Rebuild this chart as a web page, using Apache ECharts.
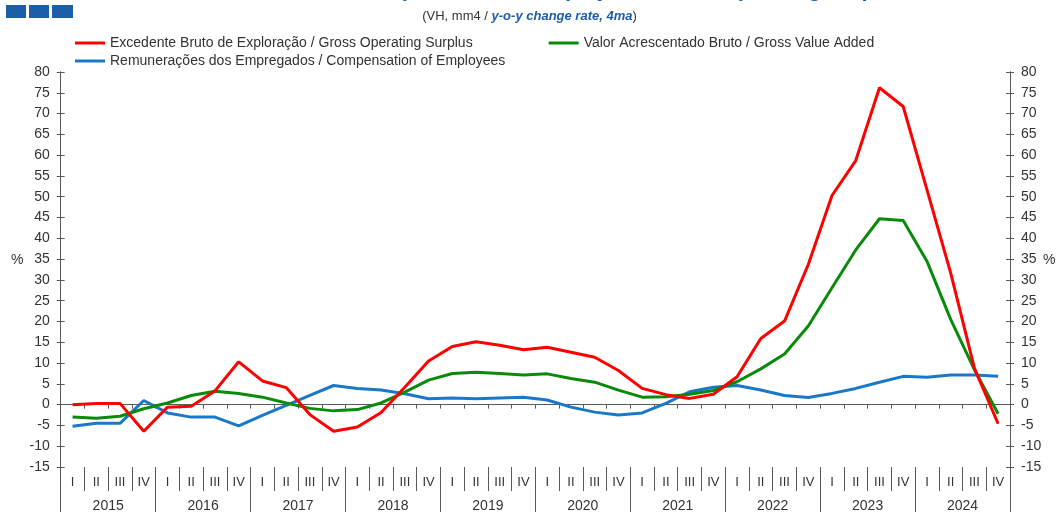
<!DOCTYPE html>
<html>
<head>
<meta charset="utf-8">
<script src="https://cdn.jsdelivr.net/npm/echarts@6/dist/echarts.min.js"></script>
<style>
html,body{margin:0;padding:0;background:#fff;}
#chart{width:1059px;height:513px;}
</style>
</head>
<body>
<div id="chart"></div>
<script>
const years = ['2015','2016','2017','2018','2019','2020','2021','2022','2023','2024'];
const quarterNames = ['I','II','III','IV'];
const yTicks = {min: -15, max: 80, interval: 5};

const seriesNames = [
  'Excedente Bruto de Exploração / Gross Operating Surplus',
  'Valor Acrescentado Bruto / Gross Value Added',
  'Remunerações dos Empregados / Compensation of Employees'
];

const gos = [
  0.0, 0.3, 0.3, -6.4,
  -0.6, -0.4, 3.3, 10.3,
  5.7, 4.1, -2.4, -6.4,
  -5.4, -1.9, 4.2, 10.5,
  14.0, 15.1, 14.3, 13.2,
  13.8, 12.6, 11.4, 8.2,
  3.9, 2.4, 1.5, 2.5,
  6.7, 15.9, 20.1, 33.7,
  50.3, 58.7, 76.2, 71.7,
  51.7, 31.7, 8.8, -4.6
];
const gva = [
  -3.0, -3.3, -2.8, -1.0,
  0.4, 2.2, 3.2, 2.7,
  1.8, 0.4, -0.9, -1.5,
  -1.2, 0.4, 3.0, 5.9,
  7.5, 7.8, 7.5, 7.1,
  7.4, 6.3, 5.4, 3.5,
  1.8, 1.9, 2.5, 3.4,
  5.5, 8.6, 12.2, 18.9,
  28.1, 37.2, 44.7, 44.3,
  34.5, 20.5, 8.4, -2.2
];
const coe = [
  -5.2, -4.5, -4.5, 1.0,
  -2.0, -3.0, -3.0, -5.1,
  -2.6, -0.2, 2.2, 4.6,
  3.9, 3.5, 2.6, 1.4,
  1.6, 1.4, 1.6, 1.8,
  1.1, -0.6, -1.8, -2.5,
  -2.0, 0.3, 3.1, 4.2,
  4.6, 3.5, 2.2, 1.7,
  2.7, 3.9, 5.4, 6.8,
  6.6, 7.1, 7.1, 6.8
];

const quarters = [];
years.forEach(y => quarterNames.forEach(q => quarters.push(q)));
const quarterKeys = [];
years.forEach(y => quarterNames.forEach(q => quarterKeys.push(y + ' ' + q)));

const FONT = 'Liberation Sans, Arial, sans-serif';
const AX = '#595959';
const TXT = '#333333';

const chart = echarts.init(document.getElementById('chart'));

function yAx(pos, labels, inside) {
  return {
    type: 'value', position: pos, min: yTicks.min, max: yTicks.max, interval: yTicks.interval,
    axisLine: {show: true, lineStyle: {color: AX, width: 1}},
    axisTick: {show: true, inside: inside, length: 4, lineStyle: {color: AX}},
    axisLabel: {show: labels, color: TXT, fontFamily: FONT, fontSize: 14, margin: 11},
    splitLine: {show: false}
  };
}

chart.setOption({
  animation: false,
  backgroundColor: '#ffffff',
  grid: {left: 60.7, right: 49, top: 72, bottom: 44.7, containLabel: false},
  graphic: [
    {type: 'rect', shape: {x: 6, y: 5, width: 20, height: 13}, style: {fill: '#1a5ea8'}},
    {type: 'rect', shape: {x: 29, y: 5, width: 20, height: 13}, style: {fill: '#1a5ea8'}},
    {type: 'rect', shape: {x: 52, y: 5, width: 21, height: 13}, style: {fill: '#1a5ea8'}},
    {type: 'text', left: 'center', top: -19,
      style: {text: 'Gross Value Added, Compensation of Employees, Gross Operating Surplus',
        fontFamily: FONT, fontSize: 21, fontWeight: 'bold', fontStyle: 'italic', fill: '#1a5ea8'}},
    {type: 'text', left: 'center', top: 10,
      style: {rich: {
        a: {fontFamily: FONT, fontSize: 13, fill: TXT, color: TXT},
        b: {fontFamily: FONT, fontSize: 13, fontWeight: 'bold', fontStyle: 'italic', fill: '#1a5ea8', color: '#1a5ea8'}
      }, text: '{a|(VH, mm4 / }{b|y-o-y change rate, 4ma}{a|)}'}},
    {type: 'text', x: 11, y: 253, style: {text: '%', fontFamily: FONT, fontSize: 14, fill: TXT}},
    {type: 'text', x: 1043, y: 253, style: {text: '%', fontFamily: FONT, fontSize: 14, fill: TXT}}
  ],
  legend: [
    {left: 70, top: 31, itemWidth: 30, itemHeight: 3, itemGap: 76, icon: 'rect',
      data: [seriesNames[0], seriesNames[1]],
      textStyle: {color: TXT, fontFamily: FONT, fontSize: 14}},
    {left: 70, top: 49, itemWidth: 30, itemHeight: 3, icon: 'rect',
      data: [seriesNames[2]],
      textStyle: {color: TXT, fontFamily: FONT, fontSize: 14}}
  ],
  xAxis: [
    {type: 'category', data: quarterKeys, position: 'bottom', boundaryGap: true,
      axisLine: {show: false, onZero: false},
      axisTick: {show: true, interval: 0, length: 24, lineStyle: {color: AX}},
      axisLabel: {interval: 0, margin: 9, color: TXT, fontFamily: FONT, fontSize: 13,
        formatter: (v, i) => quarters[i]}},
    {type: 'category', data: years, position: 'bottom', boundaryGap: true,
      axisLine: {show: false, onZero: false},
      axisTick: {show: true, interval: 0, length: 45, lineStyle: {color: AX}},
      axisLabel: {interval: 0, margin: 32, color: TXT, fontFamily: FONT, fontSize: 14}},
    {type: 'category', data: quarterKeys, position: 'bottom', boundaryGap: true,
      axisLine: {show: true, onZero: true, lineStyle: {color: AX}},
      axisTick: {show: true, interval: 0, length: 4, lineStyle: {color: AX}},
      axisLabel: {show: false}}
  ],
  yAxis: [yAx('left', true, false), yAx('right', true, false), yAx('left', false, true), yAx('right', false, true)],
  series: [
    {name: seriesNames[0], type: 'line', data: gos, xAxisIndex: 0, yAxisIndex: 0, symbol: 'none',
      lineStyle: {color: '#ff0000', width: 3}, itemStyle: {color: '#ff0000'}, z: 4},
    {name: seriesNames[1], type: 'line', data: gva, xAxisIndex: 0, yAxisIndex: 0, symbol: 'none',
      lineStyle: {color: '#0a8a0a', width: 3}, itemStyle: {color: '#0a8a0a'}, z: 3},
    {name: seriesNames[2], type: 'line', data: coe, xAxisIndex: 0, yAxisIndex: 0, symbol: 'none',
      lineStyle: {color: '#1a78c8', width: 3}, itemStyle: {color: '#1a78c8'}, z: 2}
  ]
});
</script>
</body>
</html>
